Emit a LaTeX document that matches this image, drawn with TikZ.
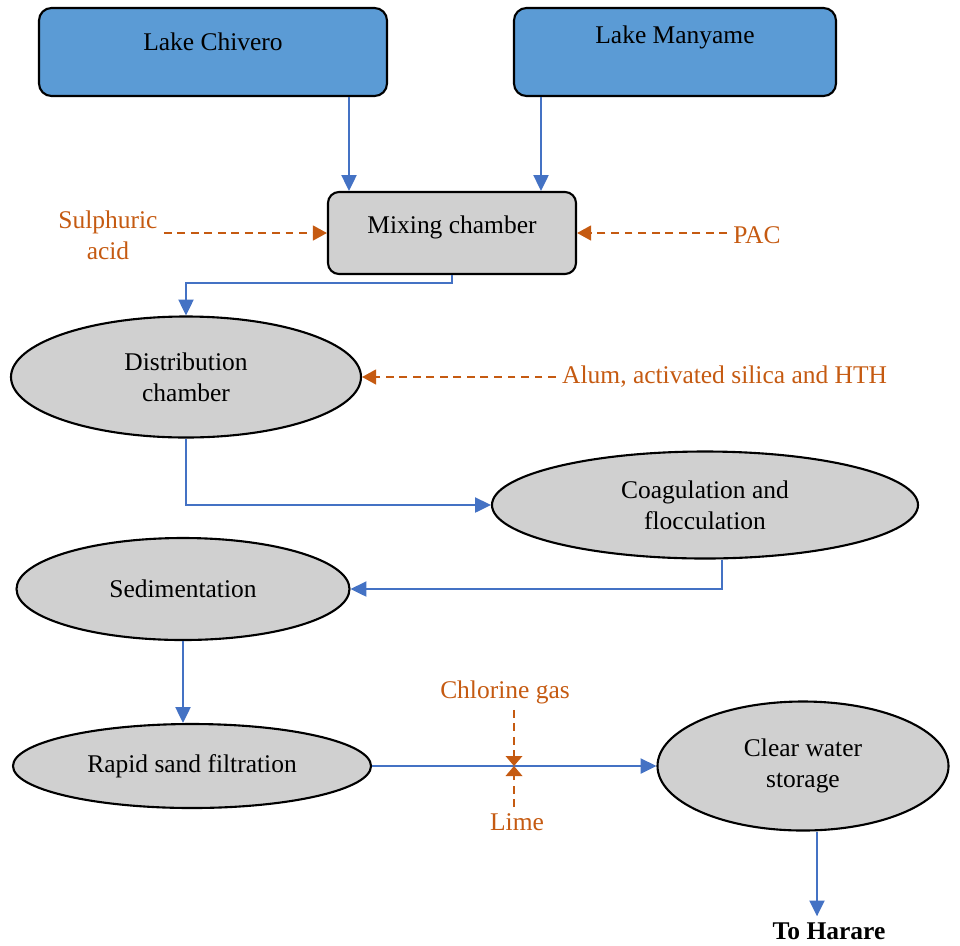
\documentclass[tikz,border=0pt]{standalone}
\usepackage{fontspec}
\setmainfont{Liberation Serif}
\usepackage{tikz}
\usetikzlibrary{positioning, calc, shapes.geometric, arrows.meta}

\definecolor{lakeblue}{HTML}{5B9BD5}
\definecolor{flowblue}{HTML}{4472C4}
\definecolor{dosing}{HTML}{C55A11}
\definecolor{tankgray}{HTML}{D0D0D0}

\begin{document}
\begin{tikzpicture}[
    >={Triangle[length=9pt,width=8.5pt]},
    every node/.style={font=\fontsize{14.5}{17.5}\selectfont},
    flow/.style={draw=flowblue, line width=1.3pt, ->},
    chem/.style={draw=dosing, line width=1pt, dash pattern=on 4.5pt off 3.2pt, -{Triangle[length=8pt,width=8.5pt]}},
    lake/.style={draw, line width=1.2pt, rounded corners=0.25cm, fill=lakeblue, minimum height=1.76cm},
    tank/.style={draw, line width=1.2pt, rounded corners=0.22cm, fill=tankgray, minimum height=1.64cm},
    stage/.style={draw, ellipse, line width=1.2pt, fill=tankgray, inner sep=0pt, align=center},
    chemlabel/.style={text=dosing, align=center}]

    \useasboundingbox (0,0) rectangle (19.2,-18.9);

    \node at (4.26,-1.04) [lake, minimum width=6.96cm, text depth=0.4cm] (chivero) {Lake Chivero};
    \node at (13.5,-1.04) [lake, minimum width=6.44cm, text depth=0.7cm] (manyame) {Lake Manyame};
    \node at (9.04,-4.66) [tank, minimum width=4.96cm, text depth=0.35cm] (mixing) {Mixing chamber};
    \node at (2.16,-4.7) [chemlabel] (sulphuric) {Sulphuric\\acid};
    \node at (15.14,-4.7) [chemlabel] (pac) {PAC};

    \node at (3.72,-7.54) [stage, minimum width=7.0cm, minimum height=2.42cm] (distrib) {Distribution\\chamber};
    \node at (11.12,-7.54) [chemlabel, anchor=west] (alum) {Alum, activated silica and HTH};
    \node at (14.1,-10.1) [stage, minimum width=8.52cm, minimum height=2.14cm] (coag) {Coagulation and\\flocculation};
    \node at (3.66,-11.78) [stage, minimum width=6.66cm, minimum height=2.04cm] (sedim) {Sedimentation};
    \node at (3.84,-15.32) [stage, minimum width=7.16cm, minimum height=1.68cm] (rapid) {Rapid sand filtration};
    \node at (16.06,-15.32) [stage, minimum width=5.82cm, minimum height=2.58cm] (clear) {Clear water\\storage};

    \coordinate (valve) at (10.28,-15.32);
    \node at (10.1,-13.84) [chemlabel] (chlorine) {Chlorine gas};
    \node at (10.34,-16.44) [chemlabel] (lime) {Lime};
    \node at (16.58,-18.62) [font=\fontsize{14.5}{17.5}\selectfont\bfseries] (harare) {To Harare};

    % raw water in
    \draw[flow] ([xshift=2.72cm]chivero.south) -- ([xshift=2.72cm]chivero.south |- mixing.north);
    \draw[flow] ([xshift=-2.68cm]manyame.south) -- ([xshift=-2.68cm]manyame.south |- mixing.north);
    \draw[chem] ([yshift=0.04cm]sulphuric.east) -- ([yshift=0.04cm]sulphuric.east -| mixing.west);
    \draw[chem] ([yshift=0.04cm]pac.west) -- ([yshift=0.04cm]pac.west -| mixing.east);

    % treatment train
    \draw[flow] (mixing.south) -- ++(0,-0.16) -| (distrib.north);
    \draw[chem] (alum.west) -- (alum.west -| distrib.east);
    \draw[flow] (distrib.south) |- (coag.west);
    \draw[flow] ([xshift=0.34cm]coag.south) |- (sedim.east);
    \draw[flow] (sedim.south) -- (sedim.south |- rapid.north);
    \draw[flow] (rapid.east) -- (clear.west);
    \draw[flow] ([xshift=0.28cm]clear.south) -- ([xshift=0.28cm]clear.south |- harare.north);

    % dosing point
    \fill[dosing] (valve) -- ++(-0.17,0.2) -- ++(0.34,0) -- cycle;
    \fill[dosing] (valve) -- ++(-0.17,-0.2) -- ++(0.34,0) -- cycle;
    \draw[chem, -] (valve |- chlorine.south) -- ([yshift=0.2cm]valve);
    \draw[chem, -] (valve |- lime.north) -- ([yshift=-0.2cm]valve);

\end{tikzpicture}
\end{document}
